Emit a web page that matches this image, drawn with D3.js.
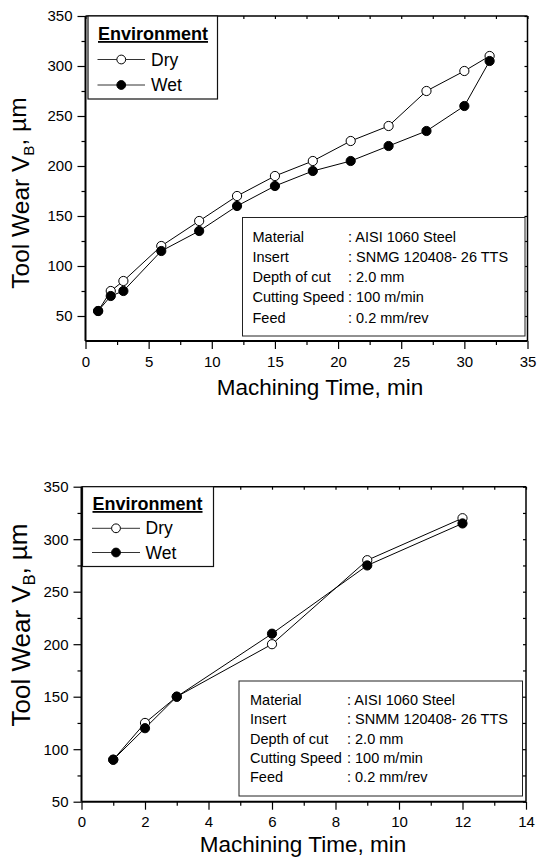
<!DOCTYPE html>
<html>
<head>
<meta charset="utf-8">
<script src="https://cdn.jsdelivr.net/npm/d3@7"></script>
<style>
  html, body { margin: 0; padding: 0; background: #fff; }
  svg { display: block; font-family: "Liberation Sans", Arial, sans-serif; }
</style>
</head>
<body>
<svg id="chart" width="538" height="857"></svg>
<script>
// ---- Data ----
const seriesNames = ["Dry", "Wet"];
const timeTop = [1, 2, 3, 6, 9, 12, 15, 18, 21, 24, 27, 30, 32];
const dryTop = [55, 75, 85, 120, 145, 170, 190, 205, 225, 240, 275, 295, 310];
const wetTop = [55, 70, 75, 115, 135, 160, 180, 195, 205, 220, 235, 260, 305];

const timeBottom = [1, 2, 3, 6, 9, 12];
const dryBottom = [90, 125, 150, 200, 280, 320];
const wetBottom = [90, 120, 150, 210, 275, 315];

const xTicksTop = [0, 5, 10, 15, 20, 25, 30, 35];
const xMinorTop = [2.5, 7.5, 12.5, 17.5, 22.5, 27.5, 32.5];
const yTicksTop = [50, 100, 150, 200, 250, 300, 350];
const yMinorTop = [75, 125, 175, 225, 275, 325];

const xTicksBottom = [0, 2, 4, 6, 8, 10, 12, 14];
const xMinorBottom = [1, 3, 5, 7, 9, 11, 13];
const yTicksBottom = [50, 100, 150, 200, 250, 300, 350];
const yMinorBottom = [75, 125, 175, 225, 275, 325];

const infoLabels = ["Material", "Insert", "Depth of cut", "Cutting Speed", "Feed"];
const infoValuesTop = [": AISI 1060 Steel", ": SNMG 120408- 26 TTS", ": 2.0 mm", ": 100 m/min", ": 0.2 mm/rev"];
const infoValuesBottom = [": AISI 1060 Steel", ": SNMM 120408- 26 TTS", ": 2.0 mm", ": 100 m/min", ": 0.2 mm/rev"];

const legendTitle = "Environment";
const xTitle = "Machining Time, min";

// ---- Drawing ----
const svg = d3.select("#chart");

function drawChart(o) {
  const g = svg.append("g");
  const x = d3.scaleLinear().domain(o.xDomain).range([o.left, o.right]);
  const y = d3.scaleLinear().domain(o.yDomain).range([o.bottom, o.top]);

  // minor ticks (outward)
  g.append("g").attr("transform", `translate(0,${o.bottom})`)
    .call(d3.axisBottom(x).tickValues(o.xMinor).tickSize(4).tickFormat("").tickSizeOuter(0))
    .call(a => a.select(".domain").remove());
  g.append("g").attr("transform", `translate(${o.left},0)`)
    .call(d3.axisLeft(y).tickValues(o.yMinor).tickSize(4).tickFormat("").tickSizeOuter(0))
    .call(a => a.select(".domain").remove());

  // major ticks + labels
  const xa = g.append("g").attr("transform", `translate(0,${o.bottom})`)
    .call(d3.axisBottom(x).tickValues(o.xTicks).tickSize(8).tickPadding(7).tickSizeOuter(0));
  xa.select(".domain").remove();
  xa.selectAll("text").attr("font-size", 15).attr("font-family", "Liberation Sans, Arial, sans-serif").attr("fill", "#000");

  const ya = g.append("g").attr("transform", `translate(${o.left},0)`)
    .call(d3.axisLeft(y).tickValues(o.yTicks).tickSize(8).tickPadding(5).tickSizeOuter(0));
  ya.select(".domain").remove();
  ya.selectAll("text").attr("font-size", 15).attr("font-family", "Liberation Sans, Arial, sans-serif").attr("fill", "#000");

  // mirrored inward ticks on top and right
  g.append("g").attr("transform", `translate(0,${o.top})`)
    .call(d3.axisTop(x).tickValues(o.xTicks.concat(o.xMinor)).tickSize(-3).tickFormat("").tickSizeOuter(0))
    .call(a => a.select(".domain").remove());
  g.append("g").attr("transform", `translate(${o.right},0)`)
    .call(d3.axisRight(y).tickValues(o.yTicks.concat(o.yMinor)).tickSize(-3).tickFormat("").tickSizeOuter(0))
    .call(a => a.select(".domain").remove());

  g.selectAll(".tick line").attr("stroke", "#000").attr("stroke-width", 1.2);

  // frame
  g.append("line").attr("x1", o.left).attr("x2", o.right).attr("y1", o.top).attr("y2", o.top)
    .attr("stroke", "#000").attr("stroke-width", 1.5);
  g.append("line").attr("x1", o.right).attr("x2", o.right).attr("y1", o.top).attr("y2", o.bottom)
    .attr("stroke", "#000").attr("stroke-width", 1.5);
  g.append("line").attr("x1", o.left).attr("x2", o.right).attr("y1", o.bottom).attr("y2", o.bottom)
    .attr("stroke", "#000").attr("stroke-width", 2);
  g.append("line").attr("x1", o.left).attr("x2", o.left).attr("y1", o.top).attr("y2", o.bottom)
    .attr("stroke", "#000").attr("stroke-width", 2);

  // axis titles
  g.append("text").attr("x", o.xTitleX).attr("y", o.xTitleY).attr("text-anchor", "middle")
    .attr("font-size", o.titleSize).attr("fill", "#000").text(xTitle);
  const yt = g.append("text")
    .attr("transform", `translate(${o.yTitleX},${o.yTitleY}) rotate(-90)`)
    .attr("text-anchor", "middle").attr("font-size", o.yTitleSize).attr("fill", "#000");
  yt.append("tspan").text("Tool Wear V");
  yt.append("tspan").attr("dy", "0.3em").attr("font-size", o.yTitleSize * 0.62).text("B");
  yt.append("tspan").attr("dy", "-0.3em").text(", \u00b5m");

  // info box
  const ib = o.info;
  g.append("rect").attr("x", ib.x0).attr("y", ib.y0).attr("width", ib.x1 - ib.x0).attr("height", ib.y1 - ib.y0)
    .attr("fill", "#fff").attr("stroke", "#222").attr("stroke-width", 1);
  infoLabels.forEach((lab, i) => {
    g.append("text").attr("x", ib.labelX).attr("y", ib.firstBase + i * ib.step)
      .attr("font-size", 14.5).attr("fill", "#000").text(lab);
    g.append("text").attr("x", ib.valueX).attr("y", ib.firstBase + i * ib.step)
      .attr("font-size", 14.5).attr("fill", "#000").style("white-space", "pre").text(o.infoValues[i]);
  });

  // series
  const line = d3.line().x(d => x(d[0])).y(d => y(d[1]));
  const series = [
    { name: seriesNames[0], vals: o.dry, fill: "#fff" },
    { name: seriesNames[1], vals: o.wet, fill: "#000" }
  ];
  series.forEach(s => {
    const pts = o.time.map((t, i) => [t, s.vals[i]]);
    g.append("path").datum(pts).attr("d", line).attr("fill", "none").attr("stroke", "#000").attr("stroke-width", 1);
  });
  series.forEach(s => {
    const pts = o.time.map((t, i) => [t, s.vals[i]]);
    g.selectAll(null).data(pts).enter().append("circle")
      .attr("cx", d => x(d[0])).attr("cy", d => y(d[1])).attr("r", 4.6)
      .attr("fill", s.fill).attr("stroke", "#000").attr("stroke-width", 1);
  });

  // legend
  const L = o.legend;
  g.append("rect").attr("x", L.x0).attr("y", L.y0).attr("width", L.x1 - L.x0).attr("height", L.y1 - L.y0)
    .attr("fill", "#fff").attr("stroke", "#111").attr("stroke-width", 1.2);
  g.append("text").attr("x", L.titleX).attr("y", L.titleY).attr("font-size", 18).attr("font-weight", "bold")
    .attr("text-decoration", "underline").attr("fill", "#000").text(legendTitle);
  series.forEach((s, i) => {
    const cy = L.rowY[i];
    g.append("line").attr("x1", L.lineX0).attr("x2", L.lineX1).attr("y1", cy).attr("y2", cy)
      .attr("stroke", "#333").attr("stroke-width", 1);
    g.append("circle").attr("cx", (L.lineX0 + L.lineX1) / 2).attr("cy", cy).attr("r", 4.4)
      .attr("fill", s.fill).attr("stroke", "#000").attr("stroke-width", 1);
    g.append("text").attr("x", L.textX).attr("y", cy + 6).attr("font-size", 17.5).attr("fill", "#000").text(s.name);
  });
}

drawChart({
  left: 85.5, right: 527.5, top: 16, bottom: 341,
  xDomain: [0, 35], yDomain: [25, 350],
  xTicks: xTicksTop, xMinor: xMinorTop, yTicks: yTicksTop, yMinor: yMinorTop,
  time: timeTop, dry: dryTop, wet: wetTop,
  titleSize: 22.5, yTitleSize: 24.5,
  xTitleX: 320, xTitleY: 395, yTitleX: 29, yTitleY: 193,
  infoValues: infoValuesTop,
  info: { x0: 242.5, y0: 217.5, x1: 525, y1: 336, labelX: 252.5, valueX: 348, firstBase: 241.5, step: 20.3 },
  legend: { x0: 88, y0: 16, x1: 217.5, y1: 99, titleX: 98, titleY: 40, lineX0: 97.5, lineX1: 145, textX: 151, rowY: [59.5, 85] }
});

drawChart({
  left: 81.5, right: 526, top: 486.7, bottom: 801.7,
  xDomain: [0, 14], yDomain: [50, 350],
  xTicks: xTicksBottom, xMinor: xMinorBottom, yTicks: yTicksBottom, yMinor: yMinorBottom,
  time: timeBottom, dry: dryBottom, wet: wetBottom,
  titleSize: 22.5, yTitleSize: 26,
  xTitleX: 303, xTitleY: 852, yTitleX: 30, yTitleY: 625,
  infoValues: infoValuesBottom,
  info: { x0: 239, y0: 681, x1: 522.5, y1: 796, labelX: 250, valueX: 347, firstBase: 705, step: 19.3 },
  legend: { x0: 82.5, y0: 486.7, x1: 213.5, y1: 566.5, titleX: 92.5, titleY: 510, lineX0: 92, lineX1: 140, textX: 145.5, rowY: [528.3, 552.5] }
});
</script>
</body>
</html>
